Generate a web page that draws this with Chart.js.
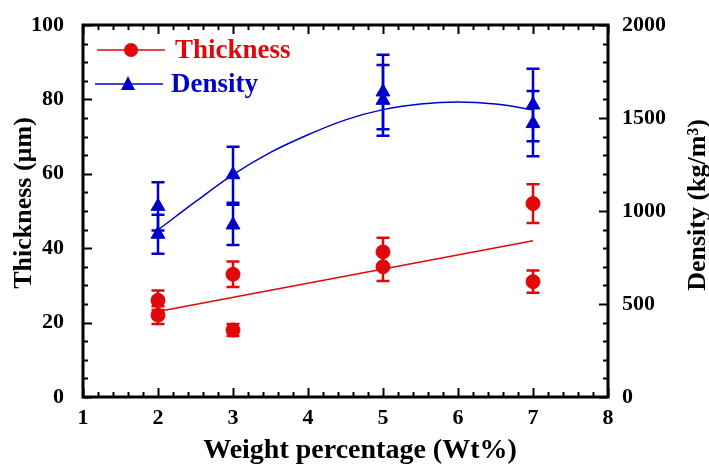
<!DOCTYPE html>
<html lang="en">
<head>
    <meta charset="UTF-8">
    <title>Thickness and density vs weight percentage</title>
    <script src="https://cdn.jsdelivr.net/npm/chart.js"></script>
    <style>
        body { margin: 0; background: #fff; }
        #wrap { width: 709px; height: 465px; position: relative; }
    </style>
</head>
<body>
<div id="wrap"><canvas id="chart"></canvas></div>
<script>
// measured points (two samples per weight %)
const wtX = [2, 2, 3, 3, 5, 5, 7, 7];
const thickness = [26, 22, 33, 18, 39, 35, 52, 31];
const thicknessErr = [2.6, 2.4, 3.4, 1.6, 3.8, 3.8, 5.2, 3.0];
const density = [1025, 875, 1195, 925, 1640, 1595, 1570, 1470];
const densityErr = [130, 105, 150, 108, 200, 190, 195, 175];

// fit curves
const thickFitX = [2, 7];
const thickFitY = [23, 42];
const densFitX = [2, 2.5, 3, 3.5, 4, 4.5, 5, 5.5, 6, 6.5, 7];
const densFitY = [898, 1050, 1195, 1315, 1410, 1490, 1545, 1575, 1586, 1575, 1545];

const xTicks = [1, 2, 3, 4, 5, 6, 7, 8];
const leftTicks = [0, 20, 40, 60, 80, 100];
const rightTicks = [0, 500, 1000, 1500, 2000];

const RED = '#e00808';
const BLUE = '#0000cc';
const FONT = '"Liberation Serif", "Times New Roman", serif';

function pts(xs, ys) {
    return xs.map((x, i) => ({ x: x, y: ys[i] }));
}

// frame, inward ticks, error bars, titles and legend
const decorPlugin = {
    id: 'decor',
    beforeDatasetsDraw(chart) {
        const ctx = chart.ctx;
        const x = chart.scales.x, yl = chart.scales.y, yr = chart.scales.y2;
        ctx.save();
        ctx.lineWidth = 2.5;
        const drawErr = (ys, errs, scale, color) => {
            ctx.strokeStyle = color;
            wtX.forEach((wx, i) => {
                const px = x.getPixelForValue(wx);
                const top = scale.getPixelForValue(ys[i] + errs[i]);
                const bot = scale.getPixelForValue(ys[i] - errs[i]);
                ctx.beginPath();
                ctx.moveTo(px, top); ctx.lineTo(px, bot);
                ctx.moveTo(px - 6.5, top); ctx.lineTo(px + 6.5, top);
                ctx.moveTo(px - 6.5, bot); ctx.lineTo(px + 6.5, bot);
                ctx.stroke();
            });
        };
        drawErr(thickness, thicknessErr, yl, RED);
        drawErr(density, densityErr, yr, BLUE);
        ctx.restore();
    },
    afterDraw(chart) {
        const ctx = chart.ctx;
        const a = chart.chartArea;
        const x = chart.scales.x, yl = chart.scales.y, yr = chart.scales.y2;
        ctx.save();
        ctx.strokeStyle = '#000';
        ctx.lineWidth = 2;
        // x ticks top and bottom
        for (let v = 1; v <= 8.0001; v += 0.2) {
            const px = Math.round(x.getPixelForValue(v)) + 0.5;
            const major = Math.abs(v - Math.round(v)) < 0.01;
            const len = major ? 9 : 5;
            ctx.beginPath();
            ctx.moveTo(px, a.bottom); ctx.lineTo(px, a.bottom - len);
            ctx.moveTo(px, a.top); ctx.lineTo(px, a.top + len);
            ctx.stroke();
        }
        // left ticks
        for (let v = 0; v <= 100; v += 5) {
            const py = Math.round(yl.getPixelForValue(v)) + 0.5;
            const len = v % 20 === 0 ? 9 : 5;
            ctx.beginPath();
            ctx.moveTo(a.left, py); ctx.lineTo(a.left + len, py);
            ctx.stroke();
        }
        // right ticks
        for (let v = 0; v <= 2000; v += 100) {
            const py = Math.round(yr.getPixelForValue(v)) + 0.5;
            const len = v % 500 === 0 ? 9 : 5;
            ctx.beginPath();
            ctx.moveTo(a.right, py); ctx.lineTo(a.right - len, py);
            ctx.stroke();
        }
        ctx.lineWidth = 3;
        ctx.strokeRect(a.left, a.top, a.right - a.left, a.bottom - a.top);

        // axis titles
        ctx.fillStyle = '#000';
        ctx.textAlign = 'center';
        ctx.textBaseline = 'middle';
        ctx.font = 'bold 28px ' + FONT;
        ctx.fillText('Weight percentage (Wt%)', 360, 451);
        ctx.font = 'bold 26px ' + FONT;
        ctx.save();
        ctx.translate(24, 203);
        ctx.rotate(-Math.PI / 2);
        ctx.fillText('Thickness (\u00b5m)', 0, 0);
        ctx.restore();
        ctx.save();
        ctx.translate(698, 205);
        ctx.rotate(-Math.PI / 2);
        ctx.fillText('Density (kg/m\u00b3)', 0, 0);
        ctx.restore();

        // legend
        ctx.lineWidth = 1.5;
        ctx.strokeStyle = RED;
        ctx.beginPath(); ctx.moveTo(97, 50); ctx.lineTo(165, 50); ctx.stroke();
        ctx.fillStyle = RED;
        ctx.beginPath(); ctx.arc(131, 50, 7, 0, Math.PI * 2); ctx.fill();
        ctx.textAlign = 'left';
        ctx.font = 'bold 27px ' + FONT;
        ctx.fillText('Thickness', 175, 51);
        ctx.strokeStyle = BLUE;
        ctx.beginPath(); ctx.moveTo(95, 84); ctx.lineTo(163, 84); ctx.stroke();
        ctx.fillStyle = BLUE;
        ctx.beginPath();
        ctx.moveTo(128, 76); ctx.lineTo(135, 90); ctx.lineTo(121, 90); ctx.closePath();
        ctx.fill();
        ctx.fillText('Density', 171, 85);
        ctx.restore();
    }
};

const tickFont = { family: FONT, size: 22, weight: 'bold' };

new Chart(document.getElementById('chart'), {
    type: 'scatter',
    data: {
        datasets: [
            {
                label: 'Thickness fit',
                data: pts(thickFitX, thickFitY),
                showLine: true,
                borderColor: RED,
                borderWidth: 1.5,
                pointRadius: 0,
                yAxisID: 'y'
            },
            {
                label: 'Density fit',
                data: pts(densFitX, densFitY),
                showLine: true,
                borderColor: BLUE,
                borderWidth: 1.5,
                pointRadius: 0,
                cubicInterpolationMode: 'monotone',
                yAxisID: 'y2'
            },
            {
                label: 'Thickness',
                data: pts(wtX, thickness),
                backgroundColor: RED,
                borderColor: RED,
                pointStyle: 'circle',
                pointRadius: 7,
                yAxisID: 'y'
            },
            {
                label: 'Density',
                data: pts(wtX, density),
                backgroundColor: BLUE,
                borderColor: BLUE,
                pointStyle: 'triangle',
                pointRadius: 8,
                yAxisID: 'y2'
            }
        ]
    },
    options: {
        responsive: true,
        maintainAspectRatio: false,
        animation: false,
        layout: { padding: { top: 25, left: 0, right: 0, bottom: 0 } },
        plugins: {
            legend: { display: false },
            tooltip: { enabled: false }
        },
        scales: {
            x: {
                type: 'linear',
                min: 1,
                max: 8,
                afterBuildTicks: s => { s.ticks = xTicks.map(v => ({ value: v })); },
                afterFit: s => { s.height = 68; },
                grid: { display: false },
                border: { display: false },
                ticks: { font: tickFont, color: '#000', padding: 0 }
            },
            y: {
                position: 'left',
                min: 0,
                max: 100,
                afterBuildTicks: s => { s.ticks = leftTicks.map(v => ({ value: v })); },
                afterFit: s => { s.width = 83; },
                grid: { display: false },
                border: { display: false },
                ticks: { font: tickFont, color: '#000', padding: 11 }
            },
            y2: {
                position: 'right',
                min: 0,
                max: 2000,
                afterBuildTicks: s => { s.ticks = rightTicks.map(v => ({ value: v })); },
                afterFit: s => { s.width = 101; },
                grid: { display: false },
                border: { display: false },
                ticks: { font: tickFont, color: '#000', padding: 6, callback: v => String(v) }
            }
        }
    },
    plugins: [decorPlugin]
});
</script>
</body>
</html>
